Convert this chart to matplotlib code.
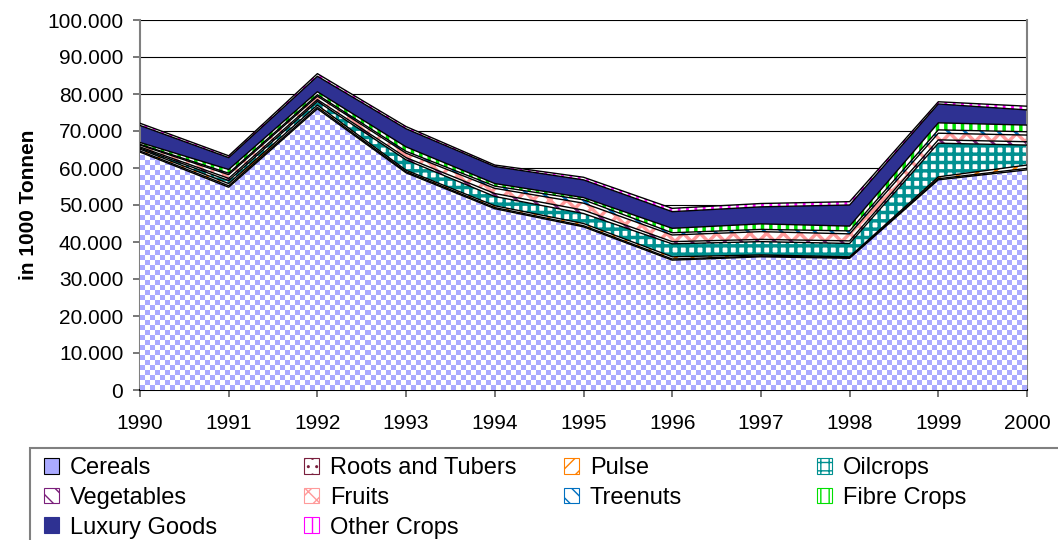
import numpy as np
import matplotlib
matplotlib.use("Agg")
import matplotlib.pyplot as plt
from matplotlib.patches import Patch, Rectangle
from matplotlib.colors import ListedColormap

# Werte in 1000 Tonnen
jahre = ["1990", "1991", "1992", "1993", "1994", "1995", "1996", "1997", "1998", "1999", "2000"]

cereals    = [64300, 54800, 76000, 58700, 49000, 44100, 35100, 36000, 35600, 56800, 59500]
roots      = [300, 400, 400, 300, 300, 300, 300, 200, 200, 300, 400]
pulse      = [500, 600, 600, 400, 500, 600, 600, 300, 200, 500, 900]
oilcrops   = [300, 800, 1000, 2800, 2500, 2700, 3500, 3600, 3600, 9100, 5400]
vegetables = [300, 600, 500, 600, 800, 900, 600, 600, 700, 900, 900]
fruits     = [500, 1000, 900, 1200, 1400, 1900, 1800, 2100, 1900, 1800, 1800]
treenuts   = [200, 400, 400, 500, 600, 900, 600, 600, 800, 900, 900]
fibre      = [500, 1000, 800, 1200, 700, 600, 1200, 1500, 1300, 1900, 1800]
luxury     = [4600, 3200, 4200, 4900, 4600, 4800, 4500, 4600, 5700, 5100, 4100]
other      = [600, 500, 700, 600, 400, 700, 900, 900, 900, 600, 1000]

namen = ["Cereals", "Roots and Tubers", "Pulse", "Oilcrops", "Vegetables",
         "Fruits", "Treenuts", "Fibre Crops", "Luxury Goods", "Other Crops"]
reihen = [cereals, roots, pulse, oilcrops, vegetables, fruits, treenuts, fibre, luxury, other]

# (flaechenfarbe, schraffurfarbe, schraffur, strichstaerke)
stile = [
    ("white", "#AAAAFF", "", 1.0),
    ("white", "#7A1F3D", "..", 1.0),
    ("white", "#FF8000", "//", 2.0),
    ("white", "#009090", "++", 2.5),
    ("white", "#7B1F7B", "\\\\", 2.0),
    ("white", "#FF9A9A", "xx", 2.5),
    ("white", "#0070C0", "\\\\", 2.0),
    ("white", "#00E000", "||", 2.5),
    ("#2E3192", "#2E3192", "", 1.0),
    ("white", "#FF00FF", "||", 2.0),
]

plt.rcParams['font.family'] = ['Liberation Sans', 'DejaVu Sans']

fig = plt.figure(figsize=(10.58, 5.4), dpi=100)
ax = fig.add_axes([140 / 1058, 150 / 540, 887 / 1058, 370 / 540])

x = np.arange(len(jahre))
unten = np.zeros(len(jahre))
flaechen = []
for werte, (fc, hc, hatch, hlw) in zip(reihen, stile):
    oben = unten + np.array(werte)
    with plt.rc_context({'hatch.linewidth': hlw}):
        f = ax.fill_between(x, unten, oben, facecolor=fc, edgecolor=hc,
                            hatch=hatch, linewidth=0, zorder=2)
    flaechen.append(f)
    ax.plot(x, oben, color="black", lw=1.0, zorder=4)
    unten = oben

# Karomuster fuer Getreide
zeilen, spalten = 74, 177
karo = (np.add.outer(np.arange(zeilen), np.arange(spalten)) % 2).astype(float)
im = ax.imshow(karo, cmap=ListedColormap(["white", "#AAAAFF"]), extent=(0, 1, 0, 1),
               transform=ax.transAxes, aspect="auto", interpolation="nearest", zorder=3)
im.set_clip_path(flaechen[0].get_paths()[0], flaechen[0].get_transform())

ax.set_xlim(0, len(jahre) - 1)
ax.set_ylim(0, 100000)
ax.set_xticks(x)
ax.set_xticklabels(jahre, fontsize=15)
yt = np.arange(0, 100001, 10000)
ax.set_yticks(yt)
ax.set_yticklabels(["0"] + [f"{v // 1000}.000" for v in yt[1:]], fontsize=15)
ax.tick_params(axis="both", direction="out", length=5, width=1.2, color="#606060")
ax.tick_params(axis="y", pad=7)
ax.tick_params(axis="x", pad=12)
ax.grid(axis="y", color="black", lw=0.8, zorder=1)
for s in ax.spines.values():
    s.set_color("#808080")
    s.set_linewidth(1.5)
ax.spines["bottom"].set_color("black")
ax.spines["top"].set_visible(False)
ax.set_ylabel("in 1000 Tonnen", fontsize=15, fontweight="bold")
ax.yaxis.set_label_coords(-0.115, 0.5)


def griff(stil):
    fc, hc, hatch, hlw = stil
    if hatch == "" and fc == "white":
        return Patch(facecolor="#AAAAFF", edgecolor="black", lw=0.8)
    return Patch(facecolor=fc, edgecolor=hc, hatch=hatch, lw=0.8)


# Legendenrahmen
fig.add_artist(Rectangle((30 / 1058, -0.1), 1.2, (540 - 448) / 540 + 0.1,
                         transform=fig.transFigure, fill=False,
                         edgecolor="#808080", lw=1.5))

spalten_idx = [[0, 4, 8], [1, 5, 9], [2, 6], [3, 7]]
spalten_x = [44, 304, 564, 817]
for idx, xs in zip(spalten_idx, spalten_x):
    fig.legend([griff(stile[i]) for i in idx], [namen[i] for i in idx],
               loc="upper left", bbox_to_anchor=(xs / 1058, 1 - 457 / 540),
               fontsize=17, frameon=False, borderaxespad=0, borderpad=0,
               handlelength=0.65, handleheight=0.65, handletextpad=0.45,
               labelspacing=0.33)

fig.savefig("out.png", dpi=100)
